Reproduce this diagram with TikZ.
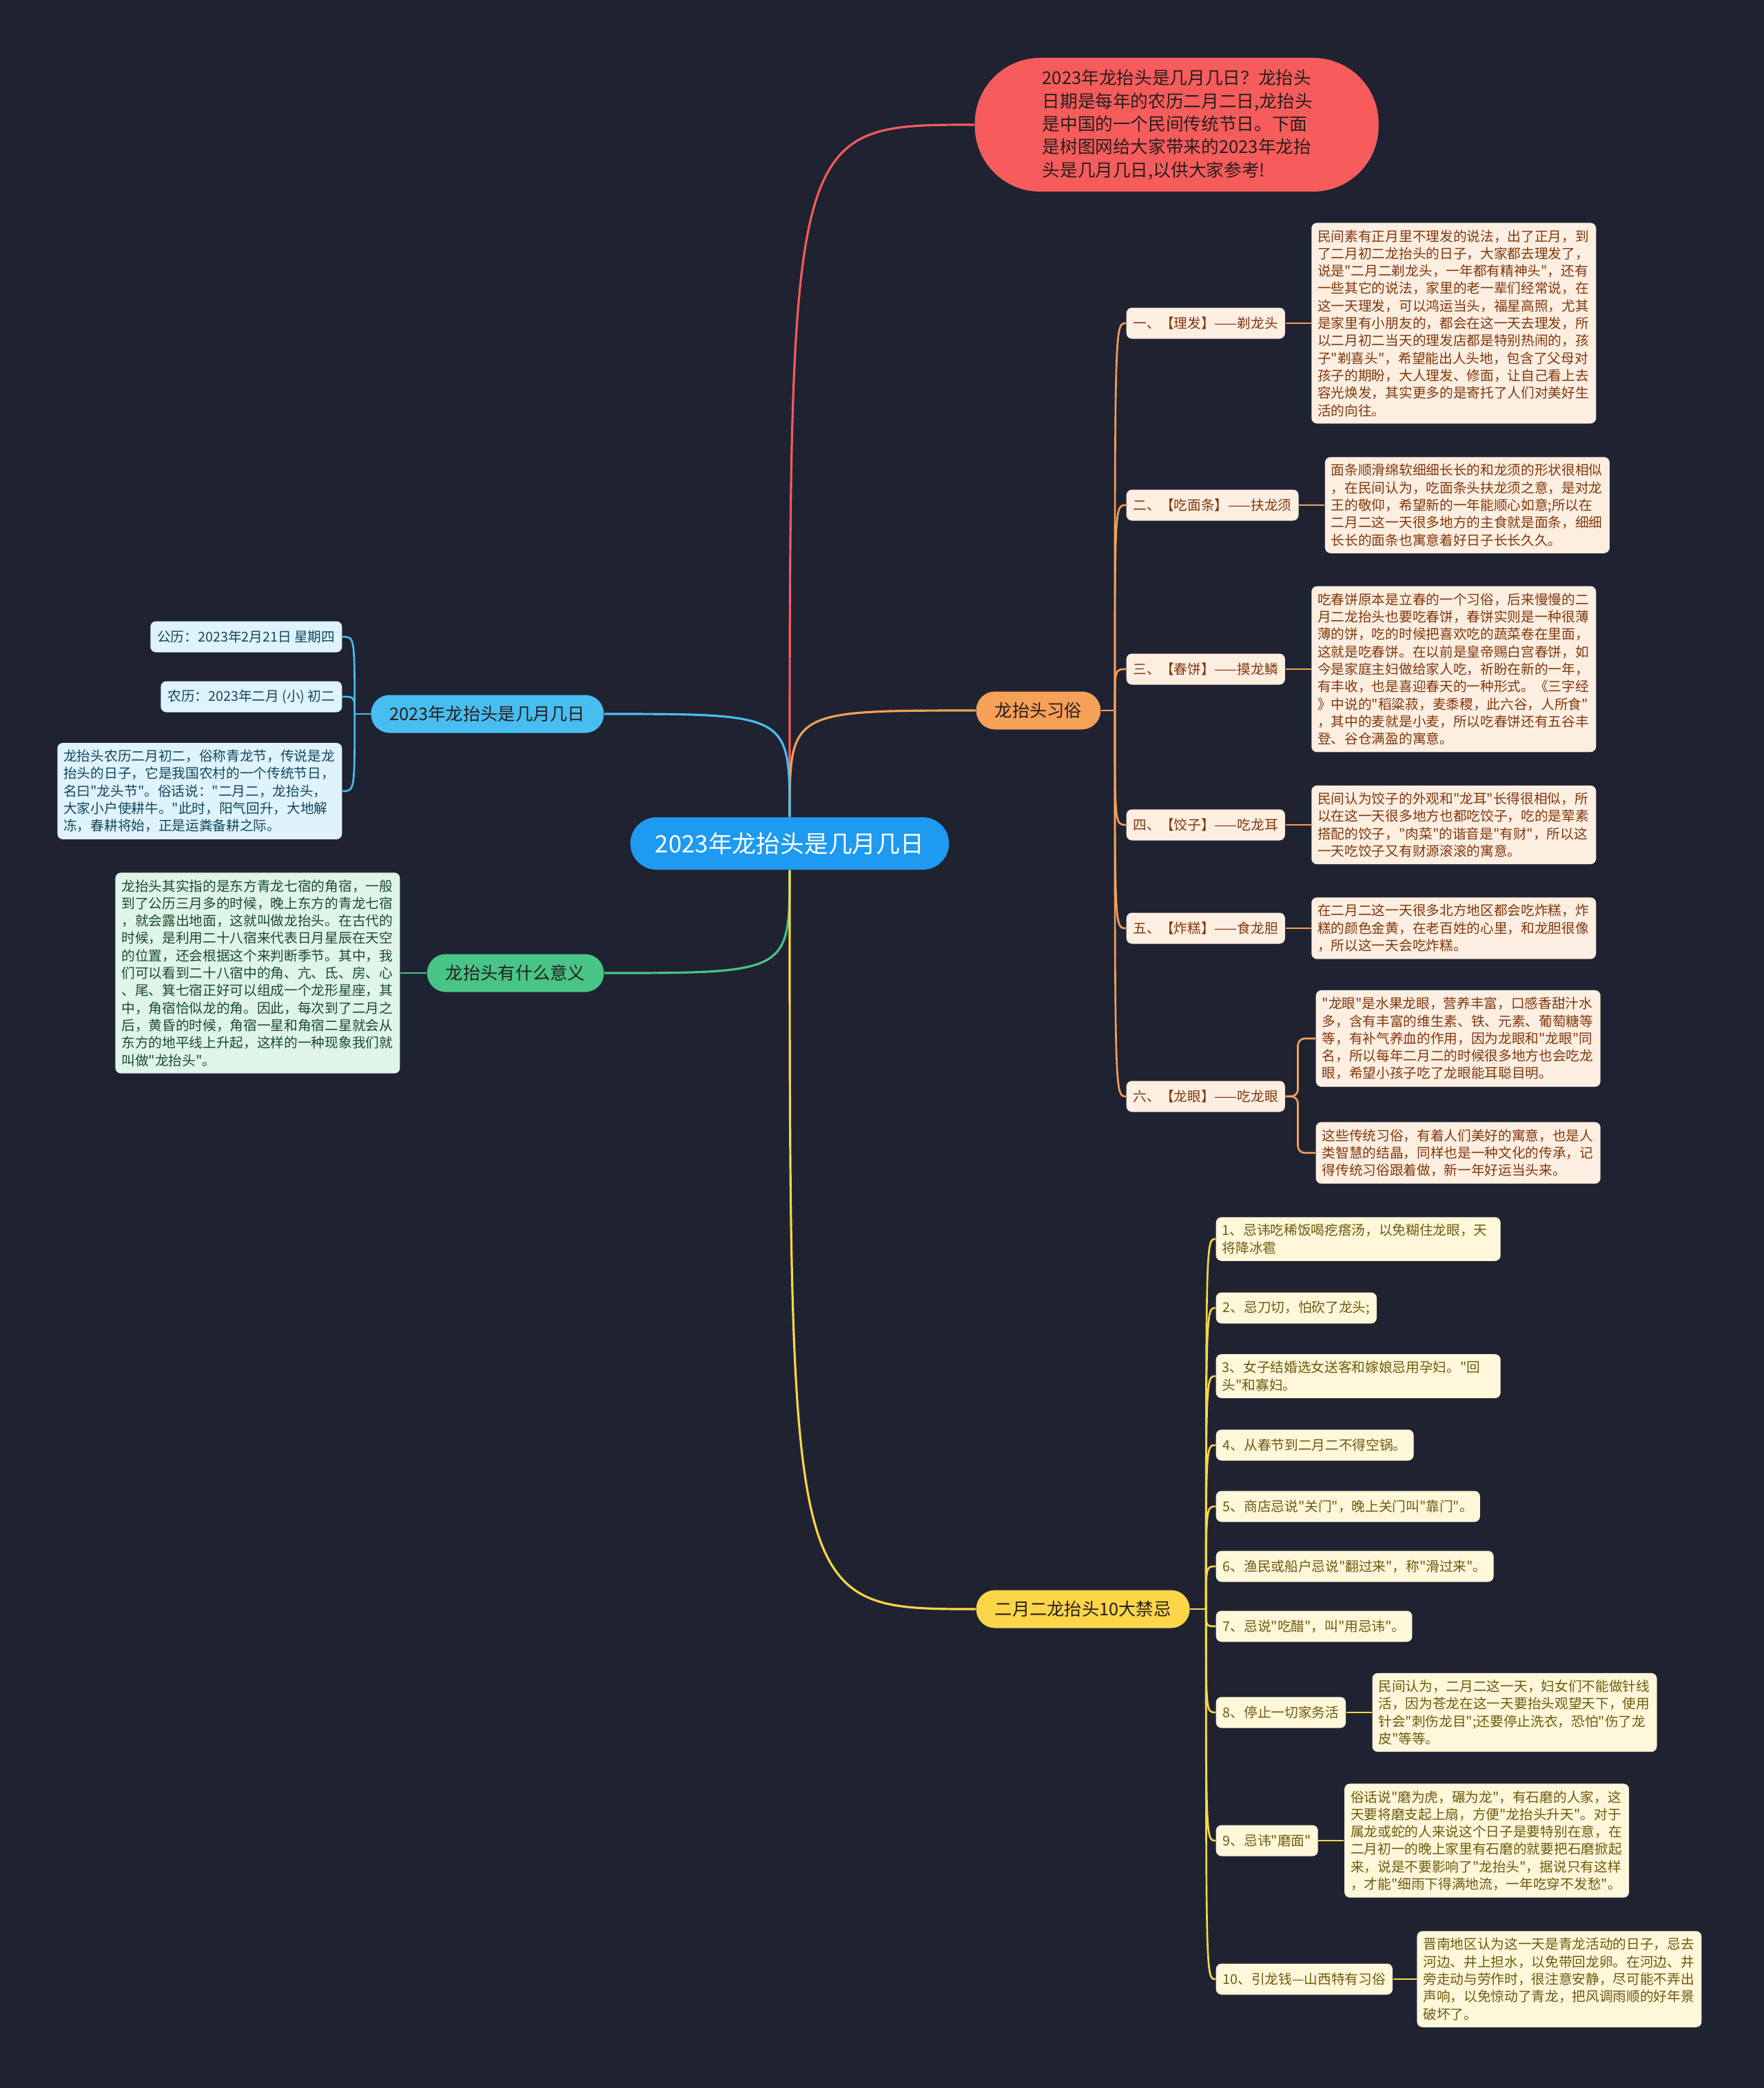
\documentclass[tikz,border=0pt]{standalone}
\usepackage{fontspec}
\setmainfont{Noto Sans CJK SC}[Ligatures=TeXOff]
\usetikzlibrary{positioning}
\definecolor{bg}{RGB}{31,35,49}
\definecolor{ink}{RGB}{38,30,30}
\definecolor{rootc}{RGB}{30,154,240}
\definecolor{redc}{RGB}{246,92,92}
\definecolor{orc}{RGB}{246,160,88}
\definecolor{orlight}{RGB}{253,238,226}
\definecolor{orink}{RGB}{128,56,12}
\definecolor{blc}{RGB}{72,190,240}
\definecolor{bllight}{RGB}{222,243,251}
\definecolor{blink}{RGB}{20,70,92}
\definecolor{grc}{RGB}{72,196,134}
\definecolor{grlight}{RGB}{224,245,234}
\definecolor{grink}{RGB}{25,75,45}
\definecolor{yec}{RGB}{250,214,72}
\definecolor{yelight}{RGB}{254,247,218}
\definecolor{yeink}{RGB}{110,90,15}
\tikzset{root/.style={fill=rootc,text=white,rounded corners=0.38cm,minimum height=0.76cm,inner xsep=0.36cm,font=\fontsize{9.9pt}{12pt}\selectfont},
lead/.style={fill=redc,text=ink,rounded corners=0.95cm,align=left,text width=3.9cm,inner xsep=0.98cm,inner ysep=0.17cm,font=\fontsize{7.3pt}{9.5pt}\selectfont},
topic/.style={rounded corners=0.27cm,minimum height=0.55cm,inner xsep=0.27cm,text=ink,font=\fontsize{7.2pt}{9pt}\selectfont},
tag/.style={rounded corners=0.08cm,minimum height=0.45cm,inner xsep=0.1cm,font=\fontsize{5.6pt}{7.2pt}\selectfont},
para/.style={tag,align=left,text width=3.95cm,inner xsep=0.09cm,inner ysep=0.1cm},
ocard/.style={fill=orlight,text=orink},bcard/.style={fill=bllight,text=blink},
gcard/.style={fill=grlight,text=grink},ycard/.style={fill=yelight,text=yeink},
link/.style={line width=0.9pt},twig/.style={line width=0.75pt}}
\begin{document}
\begin{tikzpicture}
\path[fill=bg,use as bounding box] (0,0) rectangle (25.6,-30.3);
\node[root] (root) at (11.46,-12.24) {2023年龙抬头是几月几日};
\node[lead,anchor=west] (intro) at (14.14,-1.81) {2023年龙抬头是几月几日？龙抬头\\日期是每年的农历二月二日,龙抬头\\是中国的一个民间传统节日。下面\\是树图网给大家带来的2023年龙抬\\头是几月几日,以供大家参考!};
\node[topic,fill=orc,anchor=west] (custom) at (14.16,-10.31) {龙抬头习俗};
\node[topic,fill=blc,anchor=east] (date) at (8.77,-10.36) {2023年龙抬头是几月几日};
\node[topic,fill=grc,anchor=east] (meaning) at (8.77,-14.12) {龙抬头有什么意义};
\node[topic,fill=yec,anchor=west] (taboo) at (14.16,-23.35) {二月二龙抬头10大禁忌};
\coordinate[right=0.2cm of custom] (chub);
\coordinate[left=0.23cm of date] (dhub);
\coordinate[right=0.23cm of taboo] (thub);

\node[tag,ocard,anchor=west] (c1) at (16.34,-4.69) {一、【理发】——剃龙头};
\node[tag,ocard,anchor=west] (c2) at (16.34,-7.33) {二、【吃面条】——扶龙须};
\node[tag,ocard,anchor=west] (c3) at (16.34,-9.71) {三、【春饼】——摸龙鳞};
\node[tag,ocard,anchor=west] (c4) at (16.34,-11.97) {四、【饺子】——吃龙耳};
\node[tag,ocard,anchor=west] (c5) at (16.34,-13.47) {五、【炸糕】——食龙胆};
\node[tag,ocard,anchor=west] (c6) at (16.34,-15.91) {六、【龙眼】——吃龙眼};
\node[para,ocard,right=0.37cm of c1] (p1) {民间素有正月里不理发的说法，出了正月，到\\了二月初二龙抬头的日子，大家都去理发了，\\说是"二月二剃龙头，一年都有精神头"，还有\\一些其它的说法，家里的老一辈们经常说，在\\这一天理发，可以鸿运当头，福星高照，尤其\\是家里有小朋友的，都会在这一天去理发，所\\以二月初二当天的理发店都是特别热闹的，孩\\子"剃喜头"，希望能出人头地，包含了父母对\\孩子的期盼，大人理发、修面，让自己看上去\\容光焕发，其实更多的是寄托了人们对美好生\\活的向往。};
\node[para,ocard,right=0.37cm of c2] (p2) {面条顺滑绵软细细长长的和龙须的形状很相似\\，在民间认为，吃面条头扶龙须之意，是对龙\\王的敬仰，希望新的一年能顺心如意;所以在\\二月二这一天很多地方的主食就是面条，细细\\长长的面条也寓意着好日子长长久久。};
\node[para,ocard,right=0.37cm of c3] (p3) {吃春饼原本是立春的一个习俗，后来慢慢的二\\月二龙抬头也要吃春饼，春饼实则是一种很薄\\薄的饼，吃的时候把喜欢吃的蔬菜卷在里面，\\这就是吃春饼。在以前是皇帝赐白宫春饼，如\\今是家庭主妇做给家人吃，祈盼在新的一年，\\有丰收，也是喜迎春天的一种形式。《三字经\\》中说的"稻粱菽，麦黍稷，此六谷，人所食"\\，其中的麦就是小麦，所以吃春饼还有五谷丰\\登、谷仓满盈的寓意。};
\node[para,ocard,right=0.37cm of c4] (p4) {民间认为饺子的外观和"龙耳"长得很相似，所\\以在这一天很多地方也都吃饺子，吃的是荤素\\搭配的饺子，"肉菜"的谐音是"有财"，所以这\\一天吃饺子又有财源滚滚的寓意。};
\node[para,ocard,right=0.37cm of c5] (p5) {在二月二这一天很多北方地区都会吃炸糕，炸\\糕的颜色金黄，在老百姓的心里，和龙胆很像\\，所以这一天会吃炸糕。};
\node[para,ocard,anchor=west] (p6) at (19.09,-15.07) {"龙眼"是水果龙眼，营养丰富，口感香甜汁水\\多，含有丰富的维生素、铁、元素、葡萄糖等\\等，有补气养血的作用，因为龙眼和"龙眼"同\\名，所以每年二月二的时候很多地方也会吃龙\\眼，希望小孩子吃了龙眼能耳聪目明。};
\node[para,ocard,anchor=west] (p6b) at (19.09,-16.73) {这些传统习俗，有着人们美好的寓意，也是人\\类智慧的结晶，同样也是一种文化的传承，记\\得传统习俗跟着做，新一年好运当头来。};

\node[tag,bcard,anchor=east] (d1) at (4.97,-9.24) {公历：2023年2月21日 星期四};
\node[tag,bcard,anchor=east] (d2) at (4.97,-10.11) {农历：2023年二月 (小) 初二};
\node[para,bcard,anchor=east] (d3) at (4.97,-11.48) {龙抬头农历二月初二，俗称青龙节，传说是龙\\抬头的日子，它是我国农村的一个传统节日，\\名曰"龙头节"。俗话说："二月二，龙抬头，\\大家小户使耕牛。"此时，阳气回升，大地解\\冻，春耕将始，正是运粪备耕之际。};
\node[para,gcard,left=0.38cm of meaning] (m1) {龙抬头其实指的是东方青龙七宿的角宿，一般\\到了公历三月多的时候，晚上东方的青龙七宿\\，就会露出地面，这就叫做龙抬头。在古代的\\时候，是利用二十八宿来代表日月星辰在天空\\的位置，还会根据这个来判断季节。其中，我\\们可以看到二十八宿中的角、亢、氐、房、心\\、尾、箕七宿正好可以组成一个龙形星座，其\\中，角宿恰似龙的角。因此，每次到了二月之\\后，黄昏的时候，角宿一星和角宿二星就会从\\东方的地平线上升起，这样的一种现象我们就\\叫做"龙抬头"。};

\node[para,ycard,anchor=west] (t1) at (17.64,-17.98) {1、忌讳吃稀饭喝疙瘩汤，以免糊住龙眼，天\\将降冰雹};
\node[tag,ycard,anchor=west] (t2) at (17.64,-18.98) {2、忌刀切，怕砍了龙头;};
\node[para,ycard,anchor=west] (t3) at (17.64,-19.97) {3、女子结婚选女送客和嫁娘忌用孕妇。"回\\头"和寡妇。};
\node[tag,ycard,anchor=west] (t4) at (17.64,-20.97) {4、从春节到二月二不得空锅。};
\node[tag,ycard,anchor=west] (t5) at (17.64,-21.86) {5、商店忌说"关门"，晚上关门叫"靠门"。};
\node[tag,ycard,anchor=west] (t6) at (17.64,-22.73) {6、渔民或船户忌说"翻过来"，称"滑过来"。};
\node[tag,ycard,anchor=west] (t7) at (17.64,-23.60) {7、忌说"吃醋"，叫"用忌讳"。};
\node[tag,ycard,anchor=west] (t8) at (17.64,-24.85) {8、停止一切家务活};
\node[tag,ycard,anchor=west] (t9) at (17.64,-26.71) {9、忌讳"磨面"};
\node[tag,ycard,anchor=west] (t10) at (17.64,-28.72) {10、引龙钱—山西特有习俗};
\node[para,ycard,right=0.37cm of t8] (tp8) {民间认为，二月二这一天，妇女们不能做针线\\活，因为苍龙在这一天要抬头观望天下，使用\\针会"刺伤龙目";还要停止洗衣，恐怕"伤了龙\\皮"等等。};
\node[para,ycard,right=0.37cm of t9] (tp9) {俗话说"磨为虎，碾为龙"，有石磨的人家，这\\天要将磨支起上扇，方便"龙抬头升天"。对于\\属龙或蛇的人来说这个日子是要特别在意，在\\二月初一的晚上家里有石磨的就要把石磨掀起\\来，说是不要影响了"龙抬头"，据说只有这样\\，才能"细雨下得满地流，一年吃穿不发愁"。};
\node[para,ycard,right=0.34cm of t10] (tp10) {晋南地区认为这一天是青龙活动的日子，忌去\\河边、井上担水，以免带回龙卵。在河边、井\\旁走动与劳作时，很注意安静，尽可能不弄出\\声响，以免惊动了青龙，把风调雨顺的好年景\\破坏了。};

\draw[link,redc] (root.north) .. controls (root.north |- intro.west) .. (intro.west);
\draw[link,orc] (root.north) .. controls (root.north |- custom.west) .. (custom.west);
\draw[link,blc] (root.north) .. controls (root.north |- date.east) .. (date.east);
\draw[link,grc] (root.south) .. controls (root.south |- meaning.east) .. (meaning.east);
\draw[link,yec] (root.south) .. controls (root.south |- taboo.west) .. (taboo.west);

\draw[twig,orc] (custom.east) -- (chub);
\draw[twig,orc] (chub) .. controls (chub |- c1.west) .. (c1.west);
\draw[twig,orc] (chub) .. controls (chub |- c2.west) .. (c2.west);
\draw[twig,orc] (chub) .. controls (chub |- c3.west) .. (c3.west);
\draw[twig,orc] (chub) .. controls (chub |- c4.west) .. (c4.west);
\draw[twig,orc] (chub) .. controls (chub |- c5.west) .. (c5.west);
\draw[twig,orc] (chub) .. controls (chub |- c6.west) .. (c6.west);
\draw[twig,orc] (c1) -- (p1);
\draw[twig,orc] (c2) -- (p2);
\draw[twig,orc] (c3) -- (p3);
\draw[twig,orc] (c4) -- (p4);
\draw[twig,orc] (c5) -- (p5);
\draw[twig,orc,rounded corners=0.1cm] (c6.east) -- ++(0.18,0) |- (p6.west);
\draw[twig,orc,rounded corners=0.1cm] (c6.east) -- ++(0.18,0) |- (p6b.west);

\draw[twig,blc] (date.west) -- (dhub);
\draw[twig,blc] (dhub) .. controls (dhub |- d1.east) .. (d1.east);
\draw[twig,blc] (dhub) .. controls (dhub |- d2.east) .. (d2.east);
\draw[twig,blc] (dhub) .. controls (dhub |- d3.east) .. (d3.east);
\draw[twig,grc] (meaning) -- (m1);

\draw[twig,yec] (taboo.east) -- (thub);
\draw[twig,yec] (thub) .. controls (thub |- t1.west) .. (t1.west);
\draw[twig,yec] (thub) .. controls (thub |- t2.west) .. (t2.west);
\draw[twig,yec] (thub) .. controls (thub |- t3.west) .. (t3.west);
\draw[twig,yec] (thub) .. controls (thub |- t4.west) .. (t4.west);
\draw[twig,yec] (thub) .. controls (thub |- t5.west) .. (t5.west);
\draw[twig,yec] (thub) .. controls (thub |- t6.west) .. (t6.west);
\draw[twig,yec] (thub) .. controls (thub |- t7.west) .. (t7.west);
\draw[twig,yec] (thub) .. controls (thub |- t8.west) .. (t8.west);
\draw[twig,yec] (thub) .. controls (thub |- t9.west) .. (t9.west);
\draw[twig,yec] (thub) .. controls (thub |- t10.west) .. (t10.west);
\draw[twig,yec] (t8) -- (tp8);
\draw[twig,yec] (t9) -- (tp9);
\draw[twig,yec] (t10) -- (tp10);
\end{tikzpicture}
\end{document}
